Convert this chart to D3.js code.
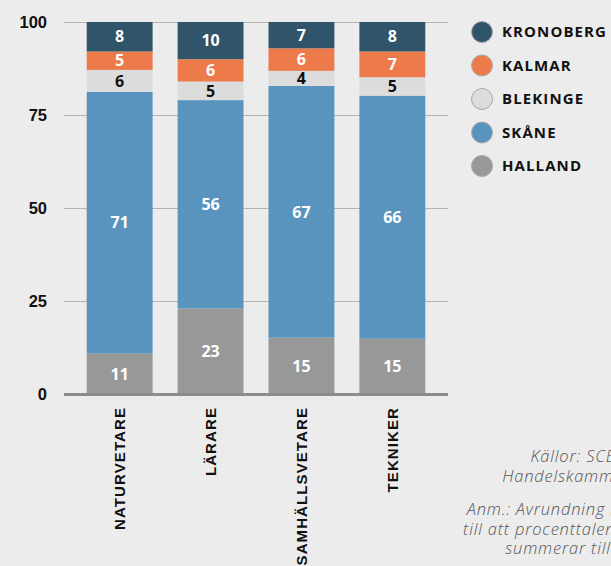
<!DOCTYPE html>
<html>
<head>
<meta charset="utf-8">
<script src="https://cdn.jsdelivr.net/npm/d3@7/dist/d3.min.js"></script>
<style>
  html, body { margin: 0; padding: 0; background: #ececec; overflow: hidden; }
  svg { display: block; font-family: "Open Sans", "Noto Sans", sans-serif; }
</style>
</head>
<body>
<svg id="chart" width="611" height="566"></svg>
<script>
// Andel per län (procent) inom varje yrkesgrupp
const categories = ["NATURVETARE", "LÄRARE", "SAMHÄLLSVETARE", "TEKNIKER"];
const halland   = [11, 23, 15, 15];
const skane     = [71, 56, 67, 66];
const blekinge  = [6, 5, 4, 5];
const kalmar    = [5, 6, 6, 7];
const kronoberg = [8, 10, 7, 8];

const seriesNames = ["HALLAND", "SKÅNE", "BLEKINGE", "KALMAR", "KRONOBERG"];
const seriesValues = [halland, skane, blekinge, kalmar, kronoberg];
const seriesColors = ["#989898", "#5894bd", "#dcdcdc", "#ec7a4a", "#30546a"];
const labelColors  = ["#ffffff", "#ffffff", "#111111", "#ffffff", "#ffffff"];
const yTicks = [0, 25, 50, 75, 100];

const sourceLines = ["Källor: SCB och", "Handelskammaren"];
const noteLines = ["Anm.: Avrundning leder", "till att procenttalen inte", "summerar till 100."];

// Table for d3.stack
const rows = categories.map((c, i) => {
  const r = { category: c };
  seriesNames.forEach((s, j) => { r[s] = seriesValues[j][i]; });
  return r;
});

const svg = d3.select("#chart");
const plot = { left: 64, right: 448, top: 22, bottom: 394 };

const x = d3.scaleBand()
  .domain(categories)
  .range([plot.left, plot.right])
  .paddingInner(0.275)
  .paddingOuter(0.25);

// Rounded shares are normalised so each column fills the full 100 %
const y = d3.scaleLinear().domain([0, 1]).range([plot.bottom, plot.top]);

const stacked = d3.stack()
  .keys(seriesNames)
  .offset(d3.stackOffsetExpand)(rows);

// Gridlines and y-axis labels
const yAxis = d3.axisLeft(y)
  .tickValues(yTicks.map(t => t / 100))
  .tickFormat(d => d3.format("d")(d * 100))
  .tickSize(-(plot.right - plot.left))
  .tickPadding(17);

const gy = svg.append("g")
  .attr("transform", `translate(${plot.left},0)`)
  .call(yAxis);
gy.select(".domain").remove();
gy.selectAll(".tick line").attr("stroke", "#b4b4b4").attr("stroke-width", 1);
gy.selectAll(".tick text")
  .attr("fill", "#111")
  .attr("font-size", 16.5)
  .attr("font-weight", 700);

// Stacked bars
const layers = svg.append("g").selectAll("g")
  .data(stacked)
  .join("g")
  .attr("fill", (d, i) => seriesColors[i]);

layers.selectAll("rect")
  .data(d => d)
  .join("rect")
  .attr("x", d => x(d.data.category))
  .attr("width", x.bandwidth())
  .attr("y", d => y(d[1]))
  .attr("height", d => y(d[0]) - y(d[1]));

// Value labels centred in each segment
svg.append("g").selectAll("g")
  .data(stacked)
  .join("g")
  .attr("fill", (d, i) => labelColors[i])
  .selectAll("text")
  .data(d => d.map(p => ({ p, key: d.key })))
  .join("text")
  .attr("x", d => x(d.p.data.category) + x.bandwidth() / 2)
  .attr("y", d => (y(d.p[0]) + y(d.p[1])) / 2)
  .attr("dy", "0.36em")
  .attr("text-anchor", "middle")
  .attr("font-size", 16)
  .attr("font-weight", 700)
  .text(d => d.p.data[d.key]);

// Baseline
svg.append("line")
  .attr("x1", plot.left).attr("x2", plot.right)
  .attr("y1", y(0) + 0.5).attr("y2", y(0) + 0.5)
  .attr("stroke", "#8c8c8c")
  .attr("stroke-width", 3);

// Category labels, rotated
const xAxis = d3.axisBottom(x).tickSize(0).tickPadding(0);
const gx = svg.append("g")
  .attr("transform", `translate(0,${plot.bottom})`)
  .call(xAxis);
gx.select(".domain").remove();
gx.selectAll(".tick text")
  .attr("transform", "rotate(-90)")
  .attr("x", -13)
  .attr("y", 0)
  .attr("dy", "0.36em")
  .attr("text-anchor", "end")
  .attr("fill", "#111")
  .attr("font-size", 15)
  .attr("font-weight", 700)
  .attr("letter-spacing", 1.1);

// Legend (top of stack first)
const legendOrder = d3.range(seriesNames.length).reverse();
const legend = svg.append("g").selectAll("g")
  .data(legendOrder)
  .join("g")
  .attr("transform", (d, i) => `translate(482,${32 + i * 33.5})`);

legend.append("circle")
  .attr("r", 10.5)
  .attr("fill", d => seriesColors[d])
  .attr("stroke", "#a8a8a8")
  .attr("stroke-width", 1);

legend.append("text")
  .attr("x", 20)
  .attr("dy", "0.36em")
  .attr("fill", "#111")
  .attr("font-size", 15)
  .attr("font-weight", 700)
  .attr("letter-spacing", 1.1)
  .text(d => seriesNames[d]);

// Source and note
const foot = svg.append("g")
  .attr("font-style", "italic")
  .attr("font-weight", 300)
  .attr("font-size", 16.5)
  .attr("letter-spacing", 0.8)
  .attr("fill", "#555")
  .attr("text-anchor", "end");

foot.selectAll("text.src")
  .data(sourceLines)
  .join("text")
  .attr("class", "src")
  .attr("x", 650)
  .attr("y", (d, i) => 462 + i * 20)
  .text(d => d);

foot.selectAll("text.note")
  .data(noteLines)
  .join("text")
  .attr("class", "note")
  .attr("x", 650)
  .attr("y", (d, i) => 515 + i * 19.5)
  .text(d => d);
</script>
</body>
</html>
